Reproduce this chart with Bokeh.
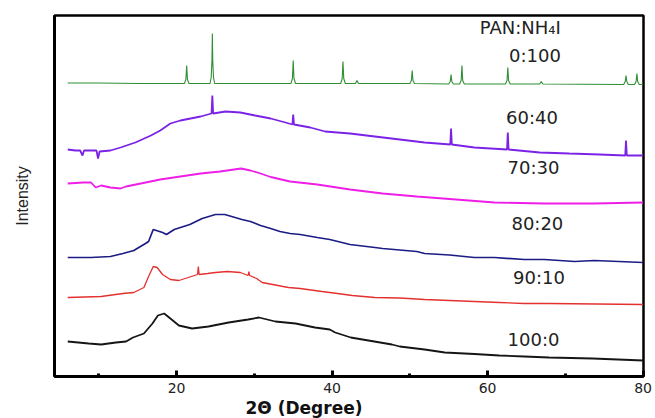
from bokeh.plotting import figure
from bokeh.models import Range1d, FixedTicker, Title, ColumnDataSource
from bokeh.core.properties import value
from bokeh.embed import file_html
from bokeh.resources import INLINE

# ---------------- data (2θ in degrees, intensity in arbitrary units, curves already stacked) -------------
green_x = [6.0, 10.0, 15.0, 21.0, 21.2, 21.3, 21.4, 21.6, 24.3, 24.45, 24.55, 24.6, 24.65, 24.75, 24.9,
           34.7, 34.9, 35.0, 35.1, 35.3, 41.1, 41.3, 41.4, 41.5, 41.7, 43.0, 43.2, 43.4,
           50.0, 50.2, 50.3, 50.4, 50.6, 55.0, 55.2, 55.3, 55.4, 55.6, 56.4, 56.6, 56.7, 56.8, 57.0,
           62.3, 62.5, 62.6, 62.7, 62.9, 66.7, 66.9, 67.1, 77.5, 77.7, 77.8, 77.9, 78.1,
           78.9, 79.1, 79.2, 79.3, 79.5, 80.0]
green_y = [293.5, 293.5, 293, 293, 297, 311, 297, 293, 293, 299, 316, 343, 316, 299, 293,
           293, 298, 316, 298, 293, 293, 298, 315, 298, 293, 293, 296, 293,
           293, 296, 306, 296, 293, 292.5, 295, 302, 295, 292.5, 292.5, 296, 311, 296, 292.5,
           292.5, 296, 309, 296, 292.5, 292.5, 295, 292.5, 292, 295, 301, 295, 292,
           292, 295, 303, 295, 292, 292]

purple_x = [6.0, 7.0, 7.6, 7.9, 8.1, 9.0, 9.7, 9.9, 10.1, 11.5, 12.8, 14.7, 16.7, 17.9, 19.2, 20.5,
            21.8, 23.1, 24.5, 24.6, 24.7, 26.3, 28.2, 30.1, 32.1, 34.0, 34.9, 35.0, 35.1, 37.2,
            39.1, 42.3, 45.5, 48.7, 51.9, 55.2, 55.3, 55.4, 58.3, 62.5, 62.6, 62.7, 66.7, 70.5,
            74.4, 77.7, 77.8, 77.9, 80.0]
purple_y = [227, 226, 226, 221, 226, 226, 226, 218, 225, 226, 229, 234, 241, 246, 253, 256,
            258, 260, 263, 281, 263, 265, 264, 261, 258, 254, 252, 262, 252, 249,
            245, 243, 240, 237, 234, 232, 248, 232, 229, 227, 244, 227, 224, 223,
            222, 221, 236, 221, 221]

magenta_x = [6.0, 8.0, 9.0, 9.6, 10.3, 11.5, 12.8, 13.5, 15.4, 17.9, 20.5, 23.1, 25.6, 28.3, 29.5,
             30.8, 32.1, 34.6, 38.1, 42.3, 46.5, 50.9, 55.1, 60.9, 67.3, 73.7, 80.0]
magenta_y = [193, 194, 194, 189, 191, 189, 188, 190, 193, 197, 200, 203, 205, 208, 206,
             203, 199.5, 195, 192, 187, 183, 180, 177.5, 174, 173, 173, 174]

navy_x = [6.0, 9.0, 11.5, 13.1, 14.5, 16.0, 16.4, 17.0, 18.2, 18.7, 19.7, 21.7, 23.3, 25.0, 26.2,
          28.4, 29.5, 30.8, 32.1, 33.3, 34.6, 35.9, 38.1, 39.7, 42.3, 45.5, 46.5, 50.9, 51.9,
          55.1, 58.3, 60.9, 64.7, 67.3, 71.2, 73.7, 80.0]
navy_y = [119, 119, 120, 123, 126, 133, 135, 147, 144, 142, 147, 152, 158, 162, 162,
          157, 155, 151, 148, 145, 143, 142, 139, 137, 132, 129, 128, 125, 123,
          121.5, 119, 119, 117, 117, 115, 116, 114]

red_x = [6.0, 10.3, 13.1, 14.5, 15.8, 16.4, 17.0, 17.5, 18.2, 19.2, 20.3, 21.5, 22.7, 22.8, 22.9,
         24.0, 25.0, 26.5, 28.2, 29.2, 29.3, 29.4, 30.3, 31.0, 33.7, 34.4, 35.9, 38.7, 39.7,
         42.6, 45.5, 48.7, 51.9, 55.1, 61.5, 64.7, 67.9, 80.0]
red_y = [79, 80, 83, 84, 89, 100, 110, 109, 102, 97, 96, 99, 102, 110, 102,
         103, 104, 105, 104, 101, 105, 101, 98, 94, 90, 89, 88, 85, 84,
         81, 79, 78.5, 77, 76, 74, 73, 73, 72]

black_x = [6.0, 8.7, 10.3, 12.2, 13.5, 14.4, 15.8, 16.9, 17.6, 18.4, 19.2, 20.3, 22.0, 24.1, 26.7,
           29.2, 30.6, 32.7, 35.3, 37.8, 39.7, 40.4, 42.4, 47.7, 48.7, 51.9, 54.5, 58.3, 61.5,
           64.7, 67.9, 73.5, 80.0]
black_y = [35, 33, 32, 34, 35, 39, 43, 53, 61, 63, 58, 51, 48, 50, 54,
           57, 59, 55, 53, 49, 47, 44, 39, 32, 30, 27, 24, 22.5, 21,
           20, 19, 18, 16]

series_names = ["0:100", "60:40", "70:30", "80:20", "90:10", "100:0"]
legend_title = "PAN:NH\u2084I"
x_ticks = [20, 40, 60, 80]
x_minor_ticks = [10, 30, 50, 70]

# ---------------- figure ----------------
p = figure(width=655, height=418, output_backend="svg", toolbar_location=None,
           x_range=Range1d(4.3, 80.05), y_range=Range1d(0, 361),
           min_border_left=54, min_border_right=12, min_border_top=15, min_border_bottom=42)
p.background_fill_color = "white"
p.border_fill_color = "white"
p.grid.visible = False
p.outline_line_color = "black"
p.outline_line_width = 2.5

curves = [
    (green_x, green_y, "#2f8f34", 1.1),
    (purple_x, purple_y, "#7b22e6", 1.8),
    (magenta_x, magenta_y, "#ee1ee8", 1.8),
    (navy_x, navy_y, "#1c1c86", 1.7),
    (red_x, red_y, "#e3312f", 1.3),
    (black_x, black_y, "#151515", 1.8),
]
for xs, ys, col, lw in curves:
    p.line(xs, ys, line_color=col, line_width=lw)

# curve labels
lab_x = [64.2, 66.1, 65.7, 65.9, 66.4, 66.6, 65.9]
lab_y = [349, 321, 259, 209, 153, 99, 37]
src = ColumnDataSource(dict(x=lab_x, y=lab_y, t=[legend_title] + series_names))
p.text(x="x", y="y", text="t", source=src, text_align="center", text_baseline="middle",
       text_font=value("DejaVu Sans"), text_font_size="18px", text_color="#222222")

# x axis
xa = p.xaxis[0]
xa.ticker = FixedTicker(ticks=x_ticks, minor_ticks=x_minor_ticks)
xa.axis_line_width = 3
xa.major_tick_in = 6
xa.major_tick_out = 0
xa.major_tick_line_width = 3
xa.minor_tick_in = 3
xa.minor_tick_out = 0
xa.minor_tick_line_width = 3
xa.major_label_standoff = 6
xa.major_label_text_font = "DejaVu Sans"
xa.major_label_text_font_size = "14px"
xa.major_label_text_color = "#222222"

xt = Title(text="2\u0398 (Degree)", align="left", offset=191, text_font="DejaVu Sans",
           text_font_size="17px", text_font_style="bold", text_color="#111111", standoff=0)
p.add_layout(xt, "below")

# y axis
ya = p.yaxis[0]
ya.ticker = FixedTicker(ticks=[])
ya.axis_line_width = 3
ya.major_tick_line_color = None
ya.minor_tick_line_color = None
ya.axis_label = "Intensity"
ya.axis_label_text_font = "Liberation Sans"
ya.axis_label_text_font_size = "16px"
ya.axis_label_text_font_style = "normal"
ya.axis_label_text_color = "#222222"
ya.axis_label_standoff = 24

open("out.html", "w").write(file_html(p, INLINE))
